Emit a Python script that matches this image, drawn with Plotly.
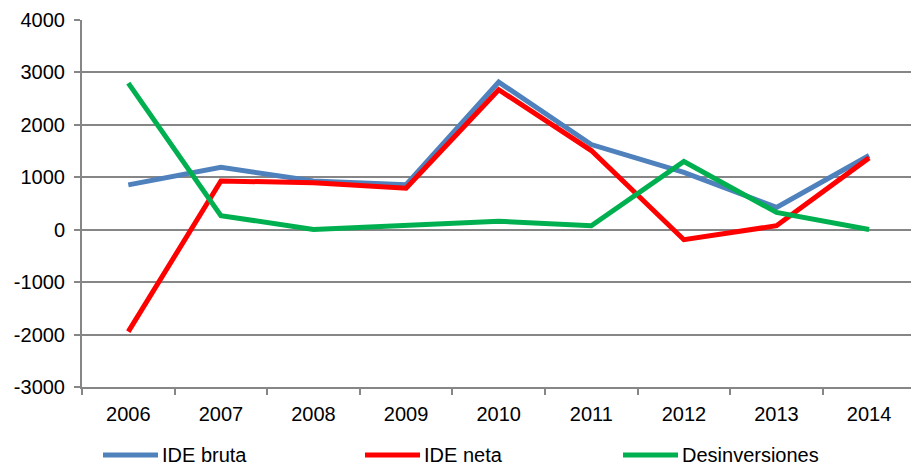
import plotly.graph_objects as go

years = ["2006", "2007", "2008", "2009", "2010", "2011", "2012", "2013", "2014"]
ide_bruta = [855, 1190, 930, 860, 2816, 1625, 1095, 426, 1415]
ide_neta = [-1944, 930, 895, 790, 2670, 1510, -190, 76, 1370]
desinversiones = [2797, 268, 5, 76, 160, 76, 1300, 330, 5]
series_names = ["IDE bruta", "IDE neta", "Desinversiones"]
colors = ["#4F81BD", "#FF0000", "#00B050"]
y_ticks = [-3000, -2000, -1000, 0, 1000, 2000, 3000, 4000]
y_tick_labels = ["-3000", "-2000", "-1000", "0", "1000", "2000", "3000", "4000"]

W, H = 911, 467
ml, mt, mb = 82, 20, 80
plot_h = H - mt - mb
cat_w = 92.6

fig = go.Figure()
for name, vals, col in zip(series_names, [ide_bruta, ide_neta, desinversiones], colors):
    fig.add_trace(go.Scatter(x=years, y=vals, mode="lines", name=name,
                             line=dict(color=col, width=5), showlegend=False))

font = dict(family="Liberation Sans, Arial, sans-serif", size=20, color="#000000")

# custom legend
leg_x = [103, 365, 623]
leg_y = (387 - 455) / plot_h
shapes = []
annotations = []
for lx, name, col in zip(leg_x, series_names, colors):
    x0 = (lx - ml) / (W - ml)
    x1 = (lx + 55 - ml) / (W - ml)
    shapes.append(dict(type="line", xref="paper", yref="paper", x0=x0, x1=x1,
                       y0=leg_y, y1=leg_y, line=dict(color=col, width=5)))
    annotations.append(dict(xref="paper", yref="paper", x=(lx + 58 - ml) / (W - ml),
                            y=leg_y, text=name, showarrow=False, xanchor="left",
                            yanchor="middle", font=font, borderpad=0))

fig.update_layout(
    width=W, height=H,
    margin=dict(l=ml, r=0, t=mt, b=mb),
    paper_bgcolor="white", plot_bgcolor="white",
    font=font,
    shapes=shapes, annotations=annotations,
    xaxis=dict(type="category", range=[-0.5, -0.5 + (W - ml) / cat_w],
               tickson="boundaries", ticks="outside", ticklen=6, tickcolor="#868686",
               tickwidth=2, showgrid=False, showline=True, linecolor="#868686",
               linewidth=2, tickfont=font, ticklabelstandoff=8),
    yaxis=dict(range=[-3000, 4000], tickvals=y_ticks, ticktext=y_tick_labels,
               ticks="outside", ticklen=6,
               tickcolor="#868686", tickwidth=2, showgrid=True, gridcolor="#868686",
               gridwidth=2, zeroline=False, showline=True, linecolor="#868686",
               linewidth=2, tickfont=font, ticklabelstandoff=5),
)

fig.write_html("out.html", config={"displayModeBar": False},
               post_script="document.body.style.margin='0';")
